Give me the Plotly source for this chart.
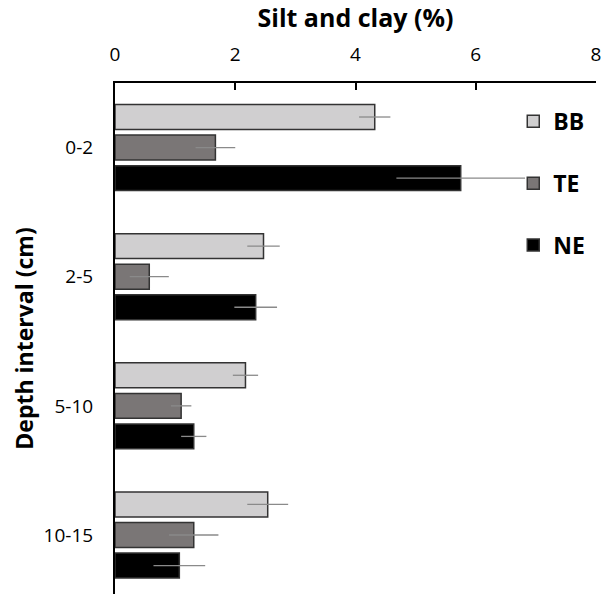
import plotly.graph_objects as go

depths = ["0-2", "2-5", "5-10", "10-15"]
series_names = ["BB", "TE", "NE"]
bb_vals = [4.32, 2.47, 2.17, 2.54]
bb_err = [0.26, 0.27, 0.21, 0.34]
te_vals = [1.67, 0.57, 1.10, 1.31]
te_err = [0.33, 0.325, 0.17, 0.41]
ne_vals = [5.75, 2.34, 1.31, 1.07]
ne_err = [1.07, 0.355, 0.21, 0.43]
x_ticks = [0, 2, 4, 6, 8]

colors = ["#d0cfd0", "#7a7676", "#000000"]
FONT = "Open Sans"
AXIS_COLOR = "#000000"

fig = go.Figure()
for name, vals, errs, col in zip(series_names, [bb_vals, te_vals, ne_vals],
                                 [bb_err, te_err, ne_err], colors):
    fig.add_trace(go.Bar(
        name=name, y=depths, x=vals, orientation="h",
        legendgroup=name,
        marker=dict(color=col, line=dict(color="#333333", width=1.5)),
        error_x=dict(type="data", array=errs, visible=True, color="#8a8a8a",
                     thickness=1.3, width=0),
    ))

fig.update_layout(
    width=607, height=594,
    margin=dict(l=115, r=11, t=83, b=0),
    paper_bgcolor="white", plot_bgcolor="white",
    barmode="group", bargap=0.29, bargroupgap=0.185,
    font=dict(family=FONT, color="black"),
    showlegend=True,
    legend=dict(x=0.828, y=0.967, xanchor="left", yanchor="top",
                traceorder="grouped", tracegroupgap=29,
                font=dict(family=FONT, size=23, color="black", weight="bold"),
                bgcolor="rgba(0,0,0,0)", itemwidth=30),
    xaxis=dict(side="top", anchor="y", range=[0, 8], tickvals=x_ticks, automargin=False,
               showgrid=False, zeroline=False, layer="above traces",
               showline=True, linecolor=AXIS_COLOR, linewidth=2,
               ticks="inside", ticklen=7, tickwidth=2, tickcolor=AXIS_COLOR,
               ticklabelstandoff=12,
               tickfont=dict(family=FONT, size=19, color="black"),
               title=dict(text="Silt and clay (%)", standoff=8,
                          font=dict(family=FONT, size=25, color="black", weight="bold"))),
    yaxis=dict(type="category", categoryorder="array", categoryarray=depths,
               range=[3.457, -0.5], showgrid=False, zeroline=False, automargin=False,
               showline=True, linecolor=AXIS_COLOR, linewidth=2,
               ticks="", ticklabelstandoff=16,
               tickfont=dict(family=FONT, size=19, color="black"),
               title=dict(text="Depth interval (cm)", standoff=4,
                          font=dict(family=FONT, size=23, color="black", weight="bold"))),
)

fig.write_html("out.html")
